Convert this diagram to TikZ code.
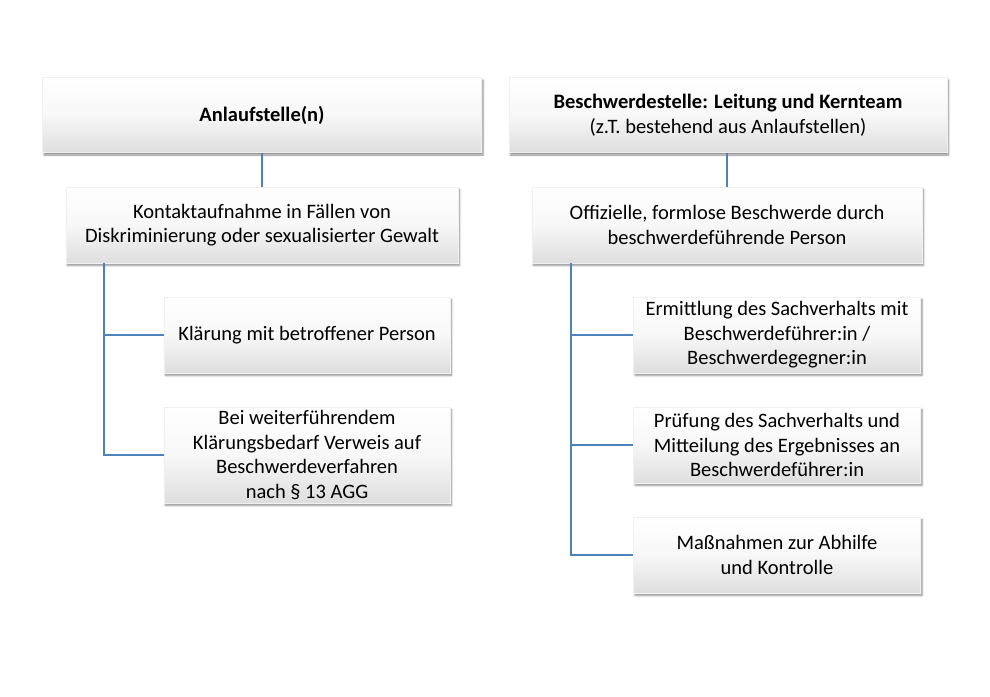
\documentclass[tikz,border=0pt]{standalone}
\usepackage{fontspec}
\setmainfont{Carlito}
\usetikzlibrary{shadows.blur}
\definecolor{linkblue}{RGB}{79,129,189}
\begin{document}
\begin{tikzpicture}[x=1pt,y=-1pt,
    box/.style={rectangle, inner sep=2pt, align=center, draw=black!6, line width=.4pt,
        top color=white, bottom color=black!13, middle color=white!97!black,
        blur shadow={shadow xshift=1.5pt, shadow yshift=-2.5pt, shadow blur steps=6, shadow opacity=45},
        font=\fontsize{20.5}{24.5}\selectfont},
    link/.style={draw=linkblue, line width=2pt}]
    \useasboundingbox (0,0) rectangle (990,696);
    % top row
    \node [box, minimum width=439pt, minimum height=75pt] (AS) at (262,115) {\textbf{Anlaufstelle(n)}};
    \node [box, minimum width=438pt, minimum height=75pt] (BS) at (728,115) {\textbf{Beschwerdestelle: Leitung und Kernteam}\\(z.T. bestehend aus Anlaufstellen)};
    % second row
    \node [box, minimum width=392pt, minimum height=76pt] (KA) at (262,225) {Kontaktaufnahme in Fällen von\\Diskriminierung oder sexualisierter Gewalt};
    \node [box, minimum width=390pt, minimum height=76pt] (OB) at (727,225) {Offizielle, formlose Beschwerde durch\\beschwerdeführende Person};
    % left branch
    \node [box, minimum width=286pt, minimum height=76pt] (KL) at (307,335) {Klärung mit betroffener Person};
    \node [box, minimum width=286pt, minimum height=96pt] (BW) at (307,455) {Bei weiterführendem\\Klärungsbedarf Verweis auf\\Beschwerdeverfahren\\nach § 13 AGG};
    % right branch
    \node [box, minimum width=287pt, minimum height=76pt] (ER) at (777,335) {Ermittlung des Sachverhalts mit\\Beschwerdeführer:in /\\Beschwerdegegner:in};
    \node [box, minimum width=287pt, minimum height=76pt] (PR) at (777,445) {Prüfung des Sachverhalts und\\Mitteilung des Ergebnisses an\\Beschwerdeführer:in};
    \node [box, minimum width=287pt, minimum height=76pt] (MA) at (777,555) {Maßnahmen zur Abhilfe\\und Kontrolle};
    % connectors
    \draw [link] (AS.south) -- (AS.south |- KA.north);
    \draw [link] (OB.north |- BS.south) -- (OB.north);
    \coordinate (KAt) at ([xshift=38pt]KA.south west);
    \coordinate (OBt) at ([xshift=39pt]OB.south west);
    \draw [link] (KAt) |- (KL.west);
    \draw [link] (KAt) |- (BW.west);
    \draw [link] (OBt) |- (ER.west);
    \draw [link] (OBt) |- (PR.west);
    \draw [link] (OBt) |- (MA.west);
\end{tikzpicture}
\end{document}
